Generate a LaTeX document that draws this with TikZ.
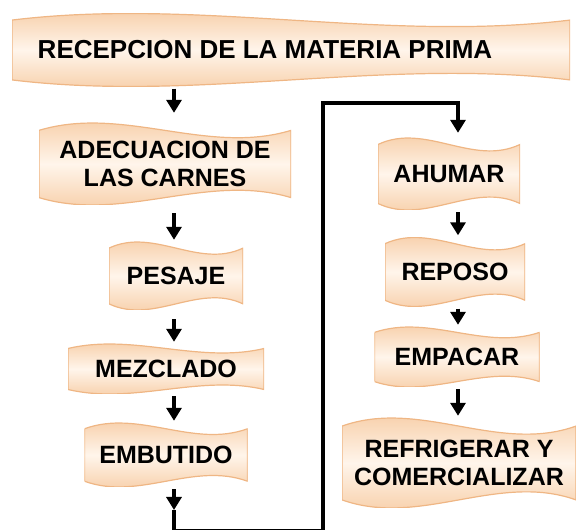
\documentclass[tikz,border=0pt]{standalone}
\usepackage{fontspec}
\setmainfont{Liberation Sans}
\usetikzlibrary{calc,arrows.meta}
\definecolor{durazno}{RGB}{245,196,150}
\definecolor{duraznoclaro}{RGB}{255,245,235}
\definecolor{duraznoborde}{RGB}{239,182,132}

\begin{document}
\begin{tikzpicture}[x=1pt,y=1pt,
    etapa/.style={inner sep=0pt, align=center,
      font=\fontsize{25}{28}\selectfont\bfseries,
      path picture={
        \shade[top color=durazno, bottom color=durazno, middle color=duraznoclaro,
          draw=duraznoborde, line width=1.2pt]
        let \p1=(path picture bounding box.south west),
            \p2=(path picture bounding box.north east),
            \n1={(\x2-\x1)/3}, \n2={0.09*(\y2-\y1)}, \n3={0.31*(\y2-\y1)} in
        (\x1,\y2-\n2) .. controls (\x1+\n1,\y2-\n2+\n3) and (\x2-\n1,\y2-\n2-\n3) .. (\x2,\y2-\n2)
        -- (\x2,\y1+\n2)
        .. controls (\x2-\n1,\y1+\n2+\n3) and (\x1+\n1,\y1+\n2-\n3) .. (\x1,\y1+\n2)
        -- cycle;}},
    flecha/.style={line width=4pt, -{Triangle[width=15pt,length=13pt]},
      shorten <=2pt, shorten >=2pt},
    linea/.style={line width=4pt}]
    \useasboundingbox (0,0) rectangle (576,530);
    % columnas de las flechas
    \coordinate (colL) at (174,0);
    \coordinate (colR) at (458,0);
    \node[etapa, minimum width=558pt, minimum height=73pt, font=\fontsize{26}{29}\selectfont\bfseries] (recep) at (291,480) {RECEPCION DE LA MATERIA PRIMA\hspace*{52pt}};
    \node[etapa, minimum width=252pt, minimum height=82pt] (adec) at (165,366) {ADECUACION DE\\LAS CARNES};
    \node[etapa, minimum width=134pt, minimum height=68pt] (pesaje) at (176,254) {PESAJE};
    \node[etapa, minimum width=196pt, minimum height=50pt] (mezcla) at (166,161) {MEZCLADO};
    \node[etapa, minimum width=163pt, minimum height=64pt] (embut) at (166,75) {EMBUTIDO};
    \node[etapa, minimum width=142pt, minimum height=72pt] (ahumar) at (449,356) {AHUMAR};
    \node[etapa, minimum width=140pt, minimum height=69pt] (reposo) at (455,258) {REPOSO};
    \node[etapa, minimum width=165pt, minimum height=60pt] (empacar) at (457,173) {EMPACAR};
    \node[etapa, minimum width=234pt, minimum height=90pt] (refrig) at (459,67) {REFRIGERAR Y\\COMERCIALIZAR};
    % columna izquierda
    \draw[flecha, shorten >=10pt] (recep.south -| colL) -- (adec.north -| colL);
    \draw[flecha, shorten <=8pt] (adec.south -| colL) -- (pesaje.north -| colL);
    \draw[flecha, shorten <=9pt] (pesaje.south -| colL) -- (mezcla.north -| colL);
    \draw[flecha] (mezcla.south -| colL) -- (embut.north -| colL);
    % paso a la columna derecha
    \coordinate (bajo) at (174,20);
    \coordinate (giro) at (323,-1);
    \coordinate (arriba) at (458,427);
    \draw[flecha, shorten >=0pt] (embut.south -| colL) -- (bajo);
    \draw[linea] (bajo) |- (giro);
    \draw[flecha, shorten <=0pt, shorten >=5pt] (giro) |- (arriba) -- (ahumar.north -| colR);
    % columna derecha
    \draw[flecha] (ahumar.south -| colR) -- (reposo.north -| colR);
    \draw[flecha] (reposo.south -| colR) -- (empacar.north -| colR);
    \draw[flecha] (empacar.south -| colR) -- (refrig.north -| colR);
\end{tikzpicture}
\end{document}
